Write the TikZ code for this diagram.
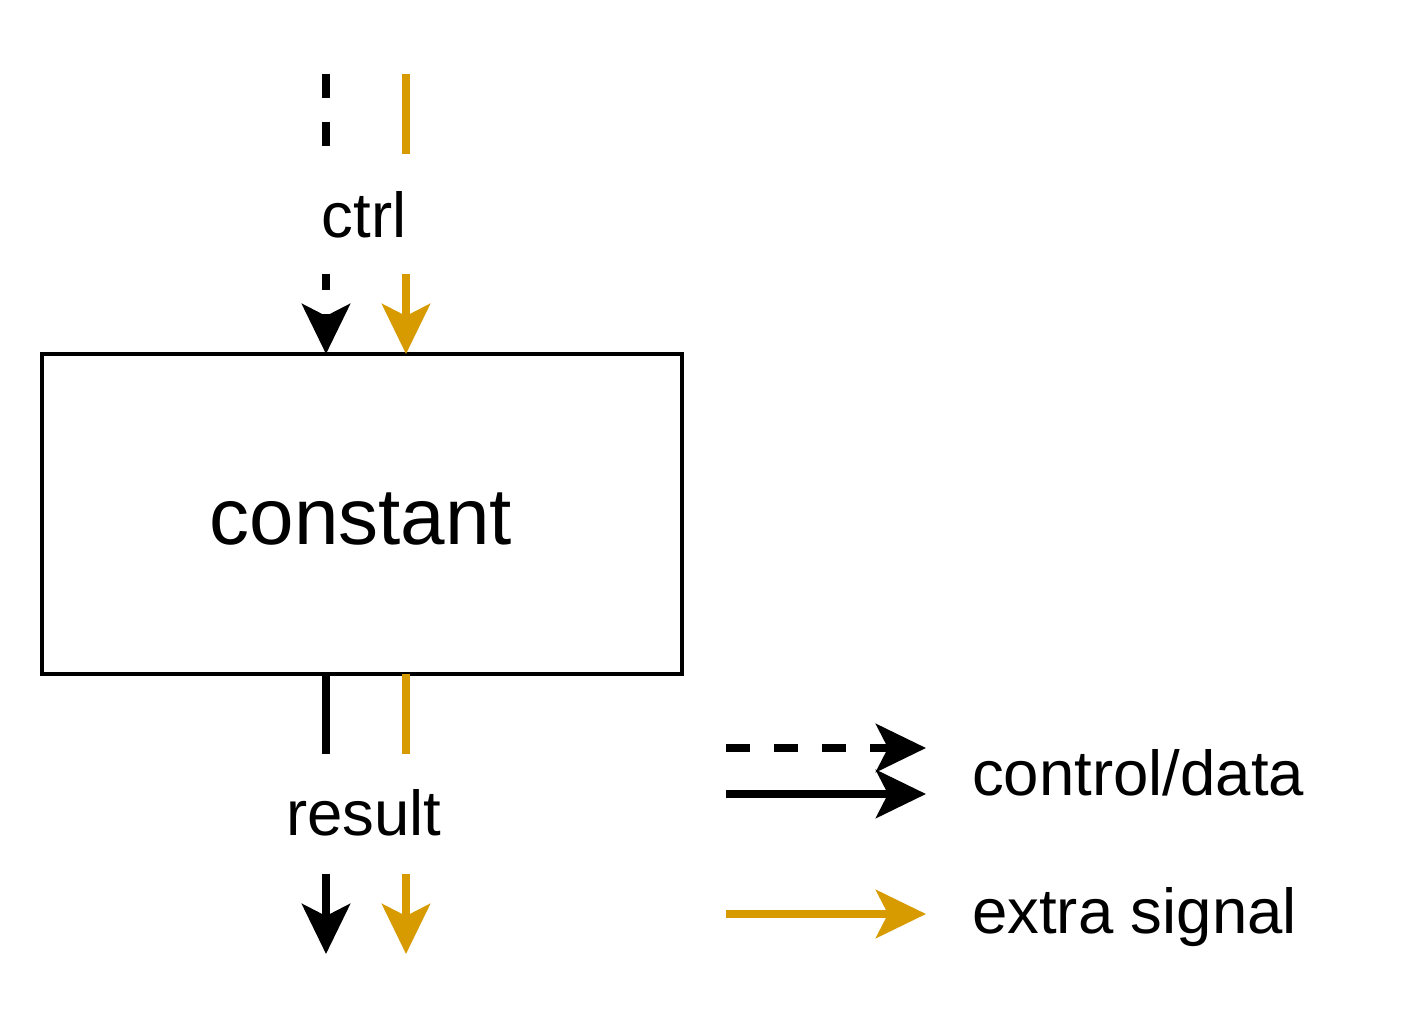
\documentclass[tikz,border=0pt]{standalone}
\usepackage{fontspec}
\setmainfont{Liberation Sans}
\usetikzlibrary{arrows.meta}
\definecolor{sigorange}{HTML}{D79B00}
\begin{document}
\begin{tikzpicture}[x=1pt,y=-1pt,
  wire/.style={line width=8pt},
  tipd/.style={-{Stealth[length=50pt,width=48pt,inset=12pt]}},
  dashwire/.style={wire,dash pattern=on 24pt off 24pt},
  orangewire/.style={wire,draw=sigorange},
  lbl/.style={font=\fontsize{63.5}{70}\selectfont,inner sep=0pt},
  lblbg/.style={fill=white,minimum width=100pt,minimum height=120pt,inner sep=0pt,font=\fontsize{63}{70}\selectfont}]
\useasboundingbox (0,0) rectangle (1408,1032);
% box
\node[draw,line width=4pt,minimum width=640pt,minimum height=320pt,inner sep=0pt,outer sep=0pt,anchor=center] (box) at (362,514) {};
\node[lbl,font=\fontsize{80}{90}\selectfont,anchor=base] (boxtxt) at (361,544) {constant};
% input coordinates
\coordinate (inA) at (326,74);
\coordinate (inB) at (406,74);
\coordinate (outA) at (326,954);
\coordinate (outB) at (406,954);
% input connectors
\draw[dashwire,tipd] (inA) -- (inA |- box.north);
\draw[orangewire,tipd] (inB) -- (inB |- box.north);
% output connectors
\draw[wire,tipd] (outA |- box.south) -- (outA);
\draw[orangewire,tipd] (outB |- box.south) -- (outB);
% labels on connectors (white background)
\node[lblbg] (ctrlbg) at (366,214) {};
\node[lbl,anchor=base] (ctrl) at (364,238) {ctrl};
\node[lblbg] (resbg) at (366,814) {};
\node[lbl,anchor=base] (result) at (364,835) {result};
% legend
\coordinate (l1a) at (726,748);
\coordinate (l1b) at (926,748);
\coordinate (l2a) at (726,794);
\coordinate (l2b) at (926,794);
\coordinate (l3a) at (726,914);
\coordinate (l3b) at (926,914);
\draw[dashwire,tipd] (l1a) -- (l1b);
\draw[wire,tipd] (l2a) -- (l2b);
\draw[orangewire,tipd] (l3a) -- (l3b);
\node[lbl,anchor=base west] (legcd) at (972,795) {control/data};
\node[lbl,anchor=base west] (legex) at (972,933) {extra signal};
\end{tikzpicture}
\end{document}
